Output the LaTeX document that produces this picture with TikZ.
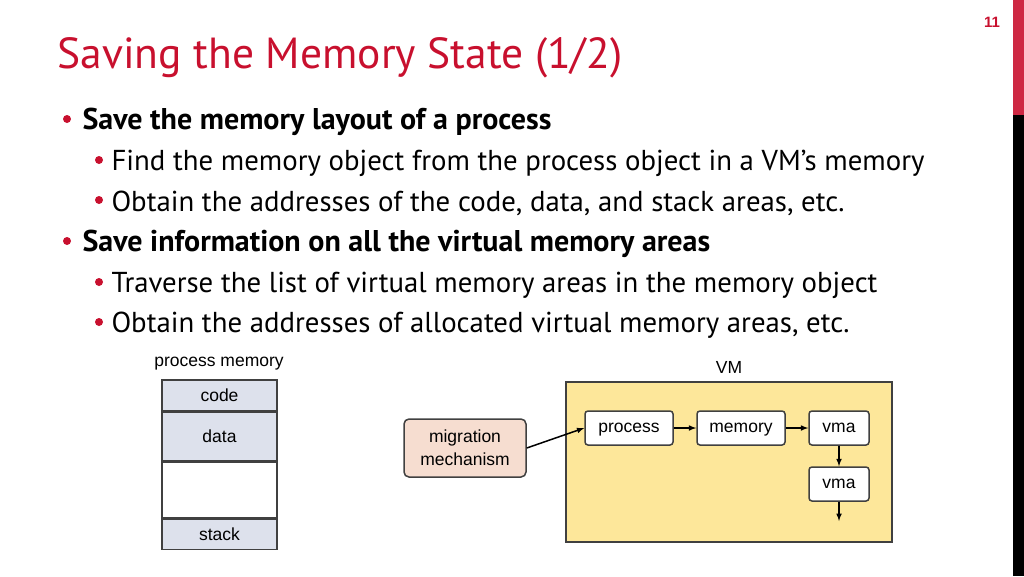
\documentclass[tikz,border=0pt]{standalone}
\usepackage{fontspec}
\setmainfont{PT Sans}
\newfontfamily\dia{Liberation Sans}
\begin{document}
\begin{tikzpicture}[x=1pt,y=-1pt,
 box/.style={draw=black!75,line width=1.5pt,rounded corners=3pt,fill=white,font=\dia\fontsize{17.5}{20}\selectfont,inner sep=0pt,text height=12.5pt,text depth=3.5pt},
 mem/.style={draw=black!75,line width=1.5pt,fill=memc,font=\dia\fontsize{17.5}{20}\selectfont,inner sep=0pt,minimum width=115pt},
 arr/.style={-latex,line width=1.5pt},
 b1/.style={anchor=west,font=\fontsize{30}{34}\selectfont\bfseries},
 b2/.style={anchor=west,font=\fontsize{28.8}{32}\selectfont},
 dot/.style={circle,fill=titc,inner sep=0pt,minimum size=8pt}]
\definecolor{titc}{HTML}{C8102E}
\definecolor{memc}{HTML}{DDE1EC}
\definecolor{vmc}{HTML}{FDE79A}
\definecolor{migc}{HTML}{F6DDD0}
\useasboundingbox (0,0) rectangle (1024,576);
\fill[titc!90!white] (1013,0) rectangle (1024,115);
\fill[black] (1013,115) rectangle (1024,576);
\node[font=\dia\bfseries\fontsize{15}{17}\selectfont,text=titc] (pg) at (992,22) {11};
\node[anchor=west,text=titc,font=\fontsize{43.5}{48}\selectfont] (title) at (54,58) {Saving the Memory State (1/2)};
\node[dot] (d1) at (67,119) {}; \node[b1] (t1) at (79,122) {Save the memory layout of a process};
\node[dot] (d2) at (99,160) {}; \node[b2] (t2) at (108,163) {Find the memory object from the process object in a VM’s memory};
\node[dot] (d3) at (99,200) {}; \node[b2] (t3) at (108,203) {Obtain the addresses of the code, data, and stack areas, etc.};
\node[dot] (d4) at (67,241) {}; \node[b1] (t4) at (79,244) {Save information on all the virtual memory areas};
\node[dot] (d5) at (99,282) {}; \node[b2] (t5) at (108,285) {Traverse the list of virtual memory areas in the memory object};
\node[dot] (d6) at (99,322) {}; \node[b2] (t6) at (108,325) {Obtain the addresses of allocated virtual memory areas, etc.};
% process memory
\node[font=\dia\fontsize{17.5}{20}\selectfont] (pml) at (219,364) {process memory};
\node[mem,minimum height=31pt] (code) at (219.5,395.5) {code};
\node[mem,minimum height=48pt,anchor=north] (data) at (code.south) {};
\node[font=\dia\fontsize{17.5}{20}\selectfont] (datat) at (219.5,436) {data};
\node[mem,fill=white,minimum height=56pt,anchor=north] (blank) at (data.south) {};
\node[mem,minimum height=30pt,anchor=north] (stack) at (blank.south) {stack};
% VM
\node[font=\dia\fontsize{17.5}{20}\selectfont] (vml) at (729,367) {VM};
\node[draw=black!75,line width=1.5pt,fill=vmc,minimum width=326pt,minimum height=160pt,inner sep=0pt] (vm) at (729,462) {};
\node[draw=black!75,line width=1.5pt,rounded corners=5pt,fill=migc,minimum width=122pt,minimum height=58pt,inner sep=0pt,align=center,font=\dia\fontsize{17.5}{23}\selectfont] (mig) at (465,448) {migration\\mechanism};
\node[box,minimum width=88pt,minimum height=34pt] (proc) at (629,428) {process};
\node[box,minimum width=88pt,minimum height=34pt] (memo) at (741,428) {memory};
\node[box,minimum width=60pt,minimum height=34pt] (vma1) at (839,428) {vma};
\node[box,minimum width=60pt,minimum height=34pt] (vma2) at (839,484) {vma};
\coordinate (end) at (839,521);
\draw[arr] (mig.east) -- (proc.west);
\draw[arr] (proc) -- (memo);
\draw[arr] (memo) -- (vma1);
\draw[arr] (vma1) -- (vma2);
\draw[arr] (vma2) -- (end);
\end{tikzpicture}
\end{document}
